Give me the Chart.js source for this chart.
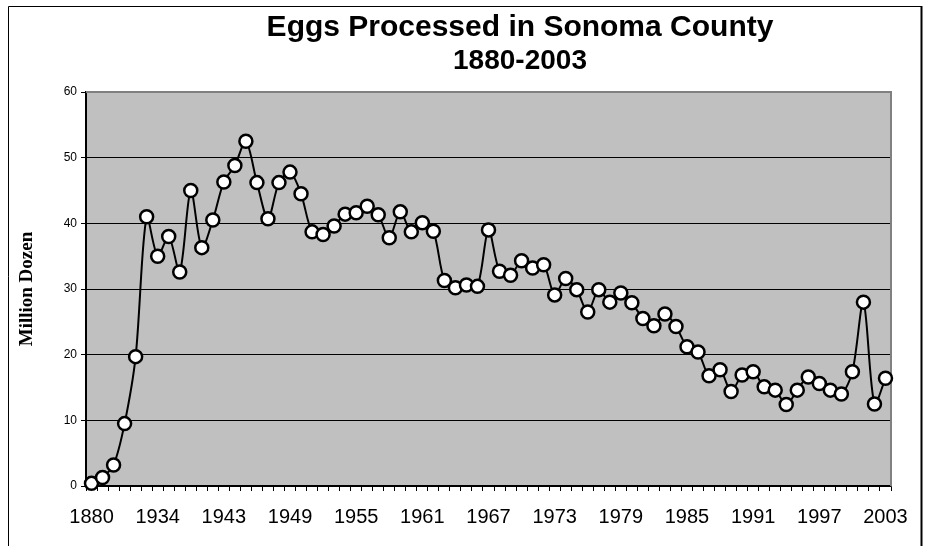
<!DOCTYPE html>
<html>
<head>
<meta charset="utf-8">
<script src="https://cdn.jsdelivr.net/npm/chart.js@4"></script>
<style>
  body { margin: 0; background: #fff; }
  #wrap { width: 928px; height: 546px; }
</style>
</head>
<body>
<div id="wrap"><canvas id="graph" width="928" height="546"></canvas></div>
<script>
// data
let years = [
    '1880', '1890', '1900', '1910', '1920', '1930', '1934', '1935', '1937', '1939', '1941', '1942',
    '1943', '1944', '1945', '1946', '1947', '1948', '1949', '1950', '1951', '1952', '1953', '1954',
    '1955', '1956', '1957', '1958', '1959', '1960', '1961', '1962', '1963', '1964', '1965', '1966',
    '1967', '1968', '1969', '1970', '1971', '1972', '1973', '1974', '1975', '1976', '1977', '1978',
    '1979', '1980', '1981', '1982', '1983', '1984', '1985', '1986', '1987', '1988', '1989', '1990',
    '1991', '1992', '1993', '1994', '1995', '1996', '1997', '1998', '1999', '2000', '2001', '2002',
    '2003'
]

let eggs = [
    0.4, 1.3, 3.2, 9.5, 19.7, 41.0, 35.0, 38.0, 32.6, 45.0, 36.3, 40.5,
    46.3, 48.8, 52.5, 46.2, 40.7, 46.2, 47.8, 44.5, 38.7, 38.3, 39.6, 41.4,
    41.6, 42.6, 41.3, 37.8, 41.75, 38.7, 40.1, 38.8, 31.3, 30.2, 30.6, 30.4,
    39.0, 32.7, 32.1, 34.3, 33.2, 33.7, 29.1, 31.6, 29.9, 26.5, 29.9, 28.0,
    29.4, 27.9, 25.5, 24.4, 26.2, 24.3, 21.2, 20.4, 16.8, 17.7, 14.4, 16.9,
    17.4, 15.1, 14.6, 12.4, 14.6, 16.6, 15.6, 14.6, 14.0, 17.4, 28.0, 12.5,
    16.4
]

let yTicks = [0, 10, 20, 30, 40, 50, 60]
let titleLines = ['Eggs Processed in Sonoma County', '1880-2003']

// frame, grey plot area and title
let decor = {
    id: 'decor',
    beforeDraw(chart) {
        let c = chart.ctx
        let a = chart.chartArea
        c.save()
        c.fillStyle = '#fff'
        c.fillRect(0, 0, chart.width, chart.height)
        c.fillStyle = '#c0c0c0'
        c.fillRect(a.left, a.top, a.right - a.left, a.bottom - a.top)
        c.strokeStyle = '#000'
        c.lineWidth = 1
        c.beginPath()
        c.moveTo(8.5, 560)
        c.lineTo(8.5, 6.5)
        c.lineTo(921.5, 6.5)
        c.stroke()
        c.lineWidth = 2
        c.beginPath()
        c.moveTo(921.5, 6)
        c.lineTo(921.5, 560)
        c.stroke()
        c.restore()
    },
    beforeDatasetsDraw(chart) {
        let c = chart.ctx
        let a = chart.chartArea
        c.save()
        c.strokeStyle = '#808080'
        c.lineWidth = 2
        c.beginPath()
        c.moveTo(a.left, a.top)
        c.lineTo(a.right, a.top)
        c.lineTo(a.right, a.bottom)
        c.stroke()
        c.restore()
    },
    afterDraw(chart) {
        let c = chart.ctx
        c.save()
        c.fillStyle = '#000'
        c.textAlign = 'center'
        c.textBaseline = 'middle'
        c.font = 'bold 30px "Liberation Sans", Arial, sans-serif'
        c.fillText(titleLines[0], 520, 28)
        c.font = 'bold 28px "Liberation Sans", Arial, sans-serif'
        c.fillText(titleLines[1], 520, 61)
        c.restore()
    }
}

let ctx = document.getElementById('graph').getContext('2d')

let graph = new Chart(ctx, {
    type: 'line',
    data: {
        labels: years,
        datasets: [
            {
                label: 'Million Dozen',
                data: eggs,
                borderColor: '#000',
                borderWidth: 2,
                tension: 0.3,
                clip: false,
                pointRadius: 6.5,
                pointBorderWidth: 2.5,
                pointBackgroundColor: '#fff',
                pointBorderColor: '#000',
            },
        ]
    },
    options: {
        responsive: false,
        animation: false,
        layout: { padding: { left: 8, top: 92, right: 37, bottom: 20 } },
        plugins: {
            legend: { display: false },
            title: { display: false },
            tooltip: { enabled: false },
        },
        scales: {
            x: {
                offset: true,
                afterFit: s => { s.height = 40 },
                border: { color: '#000', width: 1.5 },
                grid: {
                    offset: true,
                    drawOnChartArea: false,
                    drawTicks: true,
                    tickLength: 5,
                    color: '#000',
                },
                ticks: {
                    autoSkip: false,
                    maxRotation: 0,
                    padding: 14,
                    color: '#000',
                    font: { family: '"Liberation Sans", Arial, sans-serif', size: 20 },
                    callback: (v, i) => i % 6 === 0 ? years[i] : '',
                },
            },
            y: {
                min: 0,
                max: 60,
                afterFit: s => { s.width = 78 },
                afterBuildTicks: s => { s.ticks = yTicks.map(v => ({ value: v })) },
                border: { color: '#000', width: 2 },
                grid: {
                    color: c => c.tick && c.tick.value === 60 ? 'rgba(0,0,0,0)' : '#000',
                    tickColor: '#000',
                    tickLength: 5,
                    lineWidth: 1,
                },
                ticks: {
                    padding: 4,
                    color: '#000',
                    font: { family: '"Liberation Sans", Arial, sans-serif', size: 12 },
                },
                title: {
                    display: true,
                    text: 'Million Dozen',
                    color: '#000',
                    padding: { top: 8, bottom: 0 },
                    font: { family: '"Liberation Serif", "Times New Roman", serif', size: 19, weight: 'bold' },
                },
            },
        }
    },
    plugins: [decor]
})
</script>
</body>
</html>
